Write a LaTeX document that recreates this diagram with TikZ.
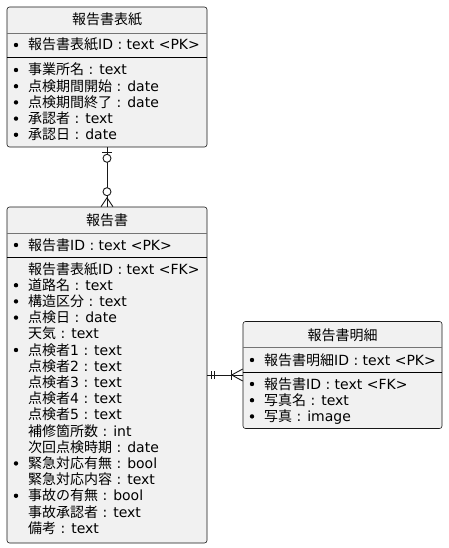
\documentclass[tikz,border=0pt]{standalone}
\usepackage{fontspec}
\setmainfont{DejaVu Sans}
\newfontfamily\jp{Noto Sans CJK JP}
\newcommand{\J}[1]{{\jp #1}}
\usepackage{tikz}
\usetikzlibrary{positioning,calc}
\usepackage{xcolor}
\definecolor{entfill}{HTML}{F1F1F1}
\definecolor{entline}{HTML}{181818}

\begin{document}
\begin{tikzpicture}[x=1pt, y=-1pt,
  entity/.style={draw=entline, fill=entfill, rounded corners=2.5pt, line width=0.6pt, inner sep=0pt},
  titlesep/.style={draw=entline!60, line width=0.6pt},
  keysep/.style={draw=black, line width=0.8pt},
  row/.style={anchor=base west, inner sep=0pt, font=\fontsize{14}{16}\selectfont},
  head/.style={anchor=base, inner sep=0pt, font=\fontsize{14}{16}\selectfont},
  conn/.style={draw=entline, line width=0.9pt}]
\useasboundingbox (0,0) rectangle (448,548);

% entity boxes
\node[entity, minimum width=200pt, minimum height=140pt] (cover) at (107,77) {};
\node[entity, minimum width=200pt, minimum height=336pt] (report) at (107,375) {};
\node[entity, minimum width=199pt, minimum height=107pt] (detail) at (342.5,375) {};

% separators
\draw[titlesep] (cover.west |- 0,33) -- (cover.east |- 0,33);
\draw[keysep] (cover.west |- 0,57) -- (cover.east |- 0,57);
\draw[titlesep] (report.west |- 0,233) -- (report.east |- 0,233);
\draw[keysep] (report.west |- 0,257) -- (report.east |- 0,257);
\draw[titlesep] (detail.west |- 0,347) -- (detail.east |- 0,347);
\draw[keysep] (detail.west |- 0,372) -- (detail.east |- 0,372);

% titles
\node[head] (coverT) at (107,25) {\J{報告書表紙}};
\node[head] (reportT) at (107,225) {\J{報告書}};
\node[head] (detailT) at (342.5,340) {\J{報告書明細}};

% primary keys
\node[row] (coverPK) at (28,50) {\J{報告書表紙}ID : text <PK>};
\fill (16,45) circle (2.2pt);
\node[row] (reportPK) at (28,250) {\J{報告書}ID : text <PK>};
\fill (16,245) circle (2.2pt);
\node[row] (detailPK) at (264,365) {\J{報告書明細}ID : text <PK>};
\fill (252,360) circle (2.2pt);

% attributes
\foreach \txt/\bb [count=\i from 0] in {
  {\J{事業所名} : text}/1, {\J{点検期間開始} : date}/1, {\J{点検期間終了} : date}/1,
  {\J{承認者} : text}/1, {\J{承認日} : date}/1} {
  \pgfmathsetmacro{\yy}{75+16.2*\i}
  \node[row] (cover\i) at (28,\yy) {\txt};
  \ifnum\bb=1 \fill (16,\yy-5) circle (2.2pt); \fi
}
\foreach \txt/\bb [count=\i from 0] in {
  {\J{報告書表紙}ID : text <FK>}/0, {\J{道路名} : text}/1, {\J{構造区分} : text}/1,
  {\J{点検日} : date}/1, {\J{天気} : text}/0, {\J{点検者}1 : text}/1,
  {\J{点検者}2 : text}/0, {\J{点検者}3 : text}/0, {\J{点検者}4 : text}/0,
  {\J{点検者}5 : text}/0, {\J{補修箇所数} : int}/0, {\J{次回点検時期} : date}/0,
  {\J{緊急対応有無} : bool}/1, {\J{緊急対応内容} : text}/0, {\J{事故の有無} : bool}/1,
  {\J{事故承認者} : text}/0, {\J{備考} : text}/0} {
  \pgfmathsetmacro{\yy}{274+16.2*\i}
  \node[row] (report\i) at (28,\yy) {\txt};
  \ifnum\bb=1 \fill (16,\yy-5) circle (2.2pt); \fi
}
\foreach \txt/\bb [count=\i from 0] in {
  {\J{報告書}ID : text <FK>}/1, {\J{写真名} : text}/1, {\J{写真} : image}/1} {
  \pgfmathsetmacro{\yy}{389+16.2*\i}
  \node[row] (detail\i) at (264,\yy) {\txt};
  \ifnum\bb=1 \fill (252,\yy-5) circle (2.2pt); \fi
}

% relation cover -- report (zero or one / zero or many)
\draw[conn] (cover.south) -- (report.north);
\draw[conn] ($(cover.south)+(-5,5)$) -- ++(10,0);
\draw[conn, fill=white] ($(cover.south)+(0,11)$) circle (4pt);
\draw[conn, fill=white] ($(report.north)+(0,-15)$) circle (4pt);
\draw[conn] ($(report.north)+(-6,0)$) -- ($(report.north)+(0,-9)$) -- ($(report.north)+(6,0)$);

% relation report -- detail (exactly one / one or many)
\draw[conn] (report.east) -- (detail.west);
\draw[conn] ($(report.east)+(4,-4)$) -- ++(0,8);
\draw[conn] ($(report.east)+(7,-4)$) -- ++(0,8);
\draw[conn] ($(detail.west)+(-11,-5)$) -- ++(0,10);
\draw[conn] ($(detail.west)+(0,-6)$) -- ($(detail.west)+(-11,0)$) -- ($(detail.west)+(0,6)$);
\end{tikzpicture}
\end{document}
